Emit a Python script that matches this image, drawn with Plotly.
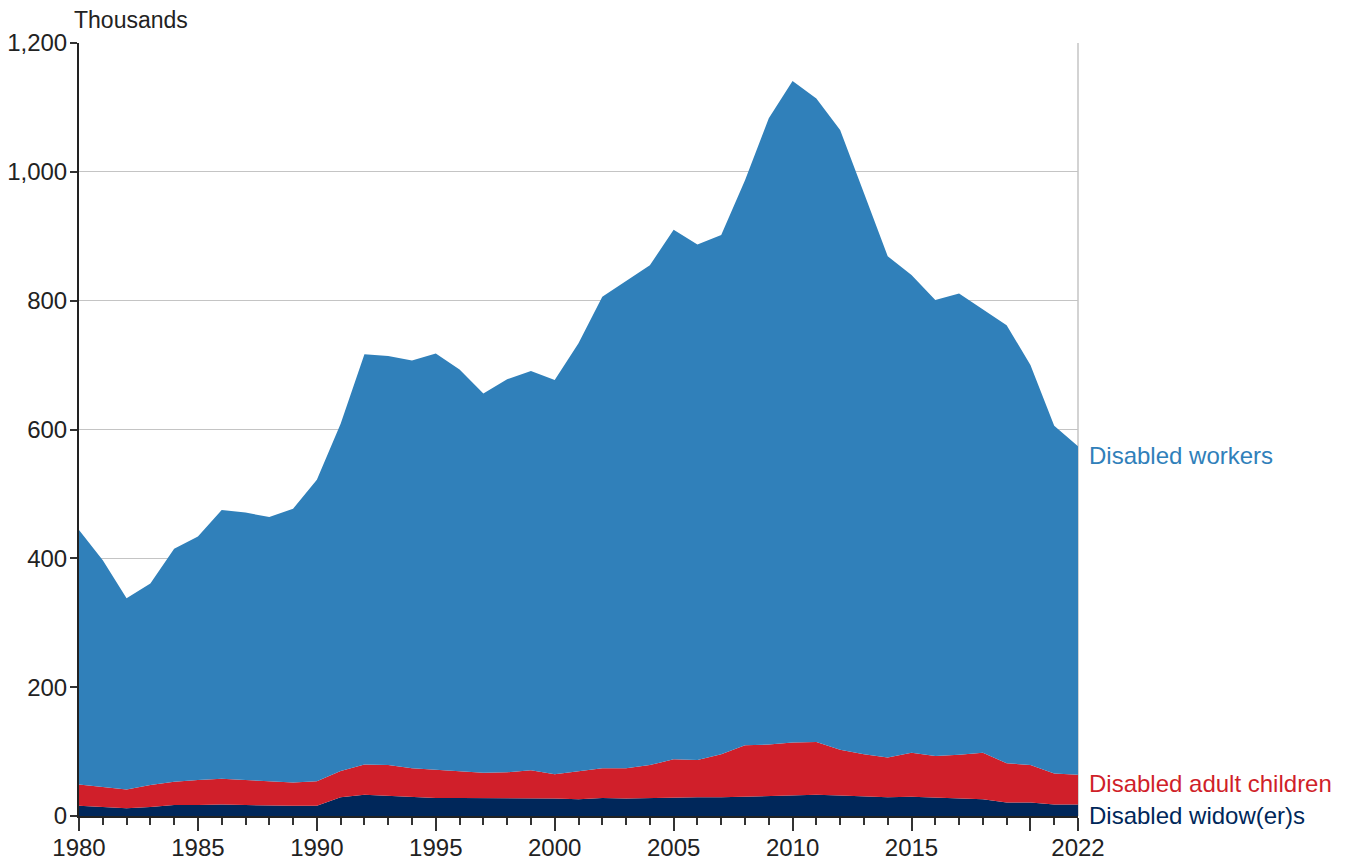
import plotly.graph_objects as go

years = list(range(1980, 2023))

disabled_widowers = [16, 14, 12, 14, 17, 17, 18, 17, 16, 16, 16, 29, 33, 31, 29, 28, 28, 28, 28, 28,
                     27, 26, 28, 27, 28, 29, 29, 29, 30, 31, 33, 33, 32, 31, 29, 30, 29, 28, 26, 21,
                     21, 18, 18]
disabled_adult_children = [33, 31, 29, 34, 36, 39, 40, 39, 38, 36, 38, 41, 47, 48, 45, 44, 41, 39, 40, 43,
                           38, 44, 46, 47, 51, 59, 58, 67, 80, 80, 81, 82, 71, 65, 62, 68, 64, 67, 72, 61,
                           58, 48, 46]
disabled_workers = [395, 352, 297, 313, 362, 378, 417, 415, 410, 425, 468, 539, 637, 635, 633, 646, 624, 589, 610, 620,
                    612, 664, 732, 757, 776, 822, 800, 806, 877, 972, 1027, 999, 962, 871, 778, 742, 708, 716, 688, 680,
                    621, 540, 510]

major_ticks = [1980, 1985, 1990, 1995, 2000, 2005, 2010, 2015, 2020, 2022]
major_labels = ["1980", "1985", "1990", "1995", "2000", "2005", "2010", "2015", "", "2022"]
y_ticks = [0, 200, 400, 600, 800, 1000, 1200]
y_labels = ["0", "200", "400", "600", "800", "1,000", "1,200"]

C_NAVY = "#00275A"
C_RED = "#D01F2A"
C_BLUE = "#3080BA"
FONT = "Arial, Liberation Sans, sans-serif"

fig = go.Figure()
for name, vals, col in [("Disabled widow(er)s", disabled_widowers, C_NAVY),
                        ("Disabled adult children", disabled_adult_children, C_RED),
                        ("Disabled workers", disabled_workers, C_BLUE)]:
    fig.add_trace(go.Scatter(x=years, y=vals, name=name, stackgroup="one", mode="lines",
                             line=dict(width=0, color=col), fillcolor=col, hoverinfo="x+y+name"))

fig.update_layout(
    width=1338, height=852,
    margin=dict(l=71, r=268, t=35, b=44, autoexpand=False),
    paper_bgcolor="white", plot_bgcolor="white",
    showlegend=False,
    font=dict(family=FONT, size=24, color="#222222"),
    xaxis=dict(range=[1980, 2022], tickmode="array", tickvals=major_ticks, ticktext=major_labels,
               ticks="outside", ticklen=13, tickwidth=1.5, tickcolor="#333333",
               ticklabelstandoff=-4,
               minor=dict(ticks="outside", ticklen=7, tickwidth=1.5, tickcolor="#333333",
                          dtick=1, tick0=1980, showgrid=False),
               showline=True, linecolor="#222222", linewidth=2, showgrid=False, zeroline=False,
               tickfont=dict(size=24, color="#222222"), automargin=False),
    yaxis=dict(range=[0, 1200], tickmode="array", tickvals=y_ticks, ticktext=y_labels,
               ticks="outside", ticklen=7, tickwidth=1.5, tickcolor="#333333",
               ticklabelstandoff=-2,
               showline=True, linecolor="#222222", linewidth=2,
               showgrid=True, gridcolor="#C4C4C4", gridwidth=1, zeroline=False,
               tickfont=dict(size=24, color="#222222"), automargin=False),
    shapes=[dict(type="line", xref="paper", yref="paper", x0=1, x1=1, y0=0, y1=1,
                 line=dict(color="#C4C4C4", width=1.5), layer="below")],
    annotations=[
        dict(text="Thousands", xref="paper", yref="paper", x=-0.007, y=1.0304,
             xanchor="left", yanchor="middle", showarrow=False,
             font=dict(size=23, color="#222222")),
        dict(text="Disabled workers", xref="paper", yref="y", x=1.0095, y=559,
             xanchor="left", yanchor="middle", showarrow=False,
             font=dict(size=24, color=C_BLUE)),
        dict(text="Disabled adult children", xref="paper", yref="y", x=1.0095, y=51,
             xanchor="left", yanchor="middle", showarrow=False,
             font=dict(size=24, color=C_RED)),
        dict(text="Disabled widow(er)s", xref="paper", yref="y", x=1.0095, y=1.5,
             xanchor="left", yanchor="middle", showarrow=False,
             font=dict(size=24, color=C_NAVY)),
    ],
)

fig.write_html("out.html")
